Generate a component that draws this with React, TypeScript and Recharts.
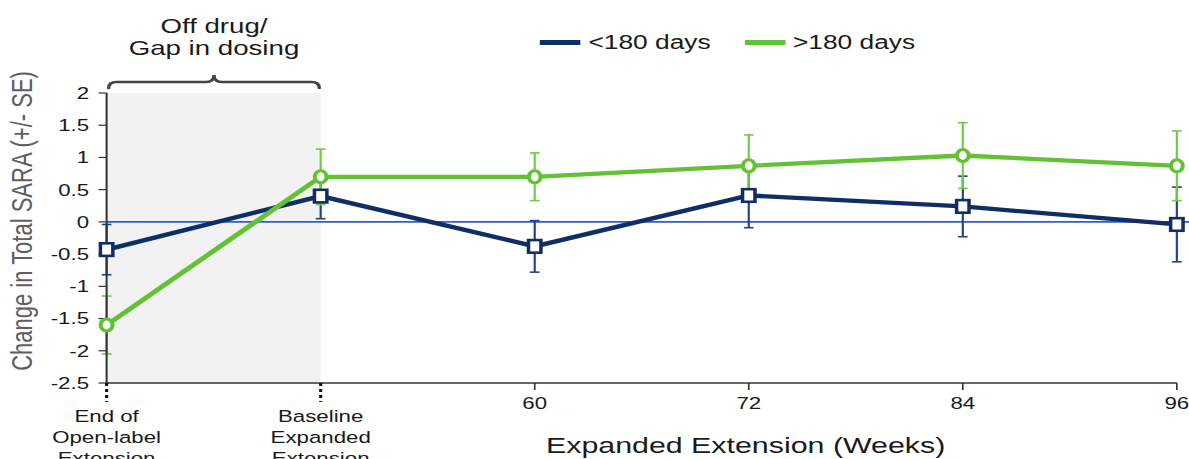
import React from 'react';
import { LineChart, Line, XAxis, YAxis, ErrorBar, ReferenceArea, ReferenceLine, Legend } from 'recharts';

// visit index 0..5 on an evenly spaced axis
const visits = [0, 1, 2, 3, 4, 5];
const visitLabels = [
  'End of\nOpen-label\nExtension',
  'Baseline\nExpanded\nExtension',
  '60',
  '72',
  '84',
  '96',
];
const under180 = [-0.43, 0.4, -0.38, 0.41, 0.24, -0.04];
const under180SE = [0.39, 0.35, 0.4, 0.5, 0.47, 0.58];
const over180 = [-1.6, 0.7, 0.7, 0.87, 1.03, 0.87];
const over180SE = [0.45, 0.43, 0.37, 0.48, 0.51, 0.54];
const yTicks = [-2.5, -2, -1.5, -1, -0.5, 0, 0.5, 1, 1.5, 2];

const data = visits.map((v, i) => ({
  visit: v,
  under: under180[i],
  underSE: under180SE[i],
  over: over180[i],
  overSE: over180SE[i],
}));

const NAVY = '#0f2f64';
const NAVY_ERR = '#23457e';
const GREEN = '#62c234';
const GREEN_ERR = '#6fc94a';
const FONT = '"Liberation Sans", Arial, sans-serif';

// the source picture is stretched sideways, so draw narrow and scale
const OUT_W = 1189;
const H = 459;
const W = 881;
const S = OUT_W / W;

const SquareDot = (props: any) => {
  const { cx, cy, index } = props;
  if (cx == null || cy == null) return null;
  return (
    <rect
      key={`sq-${index}`}
      x={cx - 4.6}
      y={cy - 6.3}
      width={9.2}
      height={12.6}
      fill="#fff"
      stroke={NAVY}
      strokeWidth={2.6}
    />
  );
};

const CircleDot = (props: any) => {
  const { cx, cy, index } = props;
  if (cx == null || cy == null) return null;
  return (
    <ellipse
      key={`ci-${index}`}
      cx={cx}
      cy={cy}
      rx={4.4}
      ry={6}
      fill="#fff"
      stroke={GREEN}
      strokeWidth={3}
    />
  );
};

const VisitTick = (props: any) => {
  const { x, y, payload } = props;
  const lines = visitLabels[payload.value].split('\n');
  const multi = lines.length > 1;
  return (
    <g>
      {multi ? (
        <line x1={x} x2={x} y1={y} y2={y + 19} stroke="#111" strokeWidth={2.3} strokeDasharray="3 3" />
      ) : (
        <line x1={x} x2={x} y1={y} y2={y + 7} stroke="#333" strokeWidth={1.2} />
      )}
      <text x={x} y={y} textAnchor="middle" fontSize={16.5} fontFamily={FONT} fill="#1a1a1a">
        {lines.map((ln, i) => (
          <tspan key={i} x={x} y={y + (multi ? 39 + i * 21 : 26)}>
            {ln}
          </tspan>
        ))}
      </text>
    </g>
  );
};

const BraceLabel = (props: any) => {
  const vb = props.viewBox;
  if (!vb) return null;
  const x1 = vb.x + 1.5;
  const x2 = vb.x + vb.width - 1;
  const mid = (x1 + x2) / 2;
  const yEnd = vb.y - 5;
  const yFlat = vb.y - 11;
  const yPeak = vb.y - 18;
  const r = 6;
  const d = `M${x1},${yEnd} Q${x1},${yFlat} ${x1 + r},${yFlat} L${mid - r},${yFlat} Q${mid},${yFlat} ${mid},${yPeak} Q${mid},${yFlat} ${mid + r},${yFlat} L${x2 - r},${yFlat} Q${x2},${yFlat} ${x2},${yEnd}`;
  return (
    <g>
      <path d={d} fill="none" stroke="#444" strokeWidth={2.5} strokeLinecap="round" />
      <text x={mid} y={vb.y - 60} textAnchor="middle" fontSize={20.5} fontFamily={FONT} fill="#1a1a1a">
        Off drug/
      </text>
      <text x={mid} y={vb.y - 38} textAnchor="middle" fontSize={20.5} fontFamily={FONT} fill="#1a1a1a">
        Gap in dosing
      </text>
    </g>
  );
};

const YTitle = (props: any) => {
  const vb = props.viewBox;
  const x = vb.x + 16;
  const y = vb.y + vb.height / 2 - 17;
  return (
    <text
      x={x}
      y={y}
      transform={`rotate(-90, ${x}, ${y})`}
      textAnchor="middle"
      dominantBaseline="central"
      fontSize={22}
      fontFamily={FONT}
      fill="#5f5f5f"
    >
      Change in Total SARA (+/- SE)
    </text>
  );
};

const XTitle = (props: any) => {
  const vb = props.viewBox;
  return (
    <text
      x={vb.x + vb.width / 2 + 77}
      y={vb.y + 70}
      textAnchor="middle"
      fontSize={22.5}
      fontFamily={FONT}
      fill="#1a1a1a"
    >
      Expanded Extension (Weeks)
    </text>
  );
};

const LegendContent = (props: any) => {
  const { payload = [] } = props;
  return (
    <div style={{ display: 'flex', alignItems: 'center', fontFamily: FONT, fontSize: 19.5, color: '#1a1a1a' }}>
      {payload.map((p: any, i: number) => (
        <div key={i} style={{ display: 'flex', alignItems: 'center', marginRight: 25 }}>
          <span style={{ display: 'inline-block', width: 30, height: 5, background: p.color, marginRight: 6 }} />
          <span>{p.value}</span>
        </div>
      ))}
    </div>
  );
};

export default function App() {
  return (
    <div style={{ position: 'absolute', left: 0, top: 0, width: OUT_W, height: H, overflow: 'hidden', background: '#fff' }}>
      <div style={{ width: W, height: H, transform: `scaleX(${S})`, transformOrigin: '0 0' }}>
        <LineChart width={W} height={H} data={data} margin={{ top: 93, right: 9, bottom: 6, left: 0 }}>
          <ReferenceArea
            x1={0}
            x2={1}
            y1={-2.5}
            y2={2}
            fill="#f2f2f2"
            fillOpacity={1}
            stroke="none"
            label={<BraceLabel />}
          />
          <XAxis
            type="number"
            dataKey="visit"
            domain={[0, 5]}
            ticks={visits}
            interval={0}
            tick={<VisitTick />}
            tickLine={false}
            tickSize={0}
            tickMargin={0}
            height={70}
            axisLine={{ stroke: '#333', strokeWidth: 1.5 }}
            label={<XTitle />}
          />
          <YAxis
            type="number"
            domain={[-2.5, 2]}
            ticks={yTicks}
            interval={0}
            width={79}
            tickSize={6}
            tickMargin={7}
            tick={{ fontSize: 16.5, fontFamily: FONT, fill: '#1a1a1a' }}
            tickLine={{ stroke: '#333', strokeWidth: 1.2 }}
            axisLine={{ stroke: '#333', strokeWidth: 1.5 }}
            label={<YTitle />}
          />
          <ReferenceLine
            segment={[
              { x: 0, y: 0 },
              { x: 5.06, y: 0 },
            ]}
            ifOverflow="visible"
            stroke="#2a5fcf"
            strokeWidth={1.8}
          />
          <Legend
            layout="horizontal"
            verticalAlign="middle"
            align="center"
            wrapperStyle={{ top: 31, left: 400, width: 'auto' }}
            content={<LegendContent />}
          />
          <Line
            dataKey="under"
            name="<180 days"
            stroke={NAVY}
            strokeWidth={4.3}
            dot={SquareDot}
            activeDot={false}
            isAnimationActive={false}
          >
            <ErrorBar dataKey="underSE" width={3.6} stroke={NAVY_ERR} strokeWidth={1.6} direction="y" />
          </Line>
          <Line
            dataKey="over"
            name=">180 days"
            stroke={GREEN}
            strokeWidth={4.3}
            dot={CircleDot}
            activeDot={false}
            isAnimationActive={false}
          >
            <ErrorBar dataKey="overSE" width={3.6} stroke={GREEN_ERR} strokeWidth={1.6} direction="y" />
          </Line>
        </LineChart>
      </div>
    </div>
  );
}
